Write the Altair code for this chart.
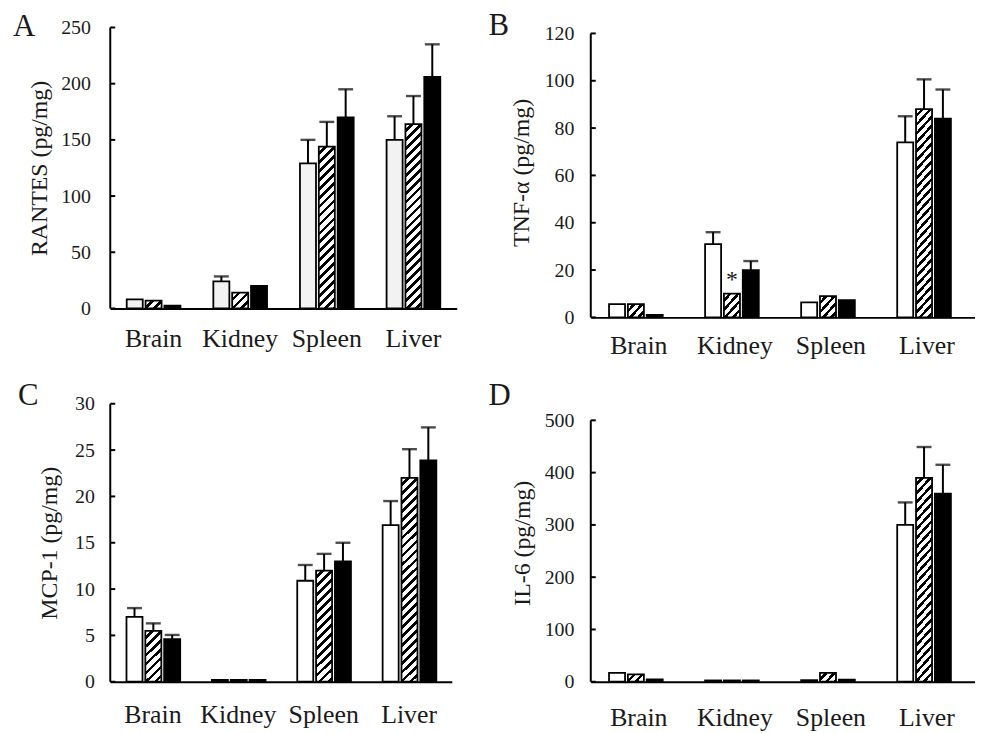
import altair as alt
import pandas as pd

ORGANS = ["Brain", "Kidney", "Spleen", "Liver"]
GROUPS = ["open", "hatched", "filled"]

# ---- Panel A: RANTES (pg/mg)
rantes_open = [8, 24, 129, 150]
rantes_hatched = [7, 14, 144, 164]
rantes_filled = [2.5, 20, 170, 206]
rantes_open_err = [None, 4.5, 21, 21]
rantes_hatched_err = [None, None, 22, 25]
rantes_filled_err = [None, None, 25, 29]
rantes_ticks = [0, 50, 100, 150, 200, 250]

# ---- Panel B: TNF-alpha (pg/mg)
tnf_open = [5.6, 31, 6.3, 74]
tnf_hatched = [5.6, 10, 9, 88]
tnf_filled = [1.0, 20, 7.3, 84]
tnf_open_err = [None, 5, None, 11]
tnf_hatched_err = [None, None, None, 12.6]
tnf_filled_err = [None, 3.8, None, 12.3]
tnf_ticks = [0, 20, 40, 60, 80, 100, 120]

# ---- Panel C: MCP-1 (pg/mg)
mcp_open = [7.0, 0.2, 10.9, 16.9]
mcp_hatched = [5.5, 0.2, 12.0, 22.0]
mcp_filled = [4.6, 0.2, 13.0, 23.9]
mcp_open_err = [0.95, None, 1.7, 2.6]
mcp_hatched_err = [0.8, None, 1.8, 3.1]
mcp_filled_err = [0.45, None, 2.0, 3.55]
mcp_ticks = [0, 5, 10, 15, 20, 25, 30]

# ---- Panel D: IL-6 (pg/mg)
il6_open = [17, 2.5, 3, 300]
il6_hatched = [14, 2.5, 17, 390]
il6_filled = [4.5, 2.5, 4, 360]
il6_open_err = [None, None, None, 43]
il6_hatched_err = [None, None, None, 59]
il6_filled_err = [None, None, None, 55]
il6_ticks = [0, 100, 200, 300, 400, 500]

SERIF = "Liberation Serif"
TXT = "#1a1a1a"
P_OUT = 0.38   # organ band padding
P_IN = 0.15    # padding between the three bars


def hatch(W, H, period=9.0, frac=0.42):
    """Diagonal '/' stripes as a hard-stop linear gradient (objectBoundingBox)."""
    W = max(W, 0.5)
    H = max(H, 0.5)
    S = W + H
    a = W * S / (W * W + H * H)
    b = H * S / (W * W + H * H)
    per = period / S
    stops = []
    k = 0.0
    while k < 1.0 - 1e-9:
        m = min(1.0, k + (1 - frac) * per)
        e2 = min(1.0, k + per)
        stops += [
            {"offset": round(k, 5), "color": "white"},
            {"offset": round(m, 5), "color": "white"},
            {"offset": round(m, 5), "color": "black"},
            {"offset": round(e2, 5), "color": "black"},
        ]
        k += per
    return {"gradient": "linear", "x1": 0, "y1": 0, "x2": a, "y2": b, "stops": stops}


def make_panel(letter, title, vals, errs, ticks, dom_max, width, height,
               open_fill, lab_pad_y, title_pad, lab_pad_x, letter_x, letter_y,
               star=None):
    rows = []
    for i, o in enumerate(ORGANS):
        for g, vs, es in zip(GROUPS, vals, errs):
            v = vs[i]
            e = es[i]
            rows.append({"organ": o, "group": g, "value": v,
                         "top": (v + e) if e is not None else None})
    df = pd.DataFrame(rows)

    xs = alt.Scale(domain=ORGANS, paddingInner=P_OUT, paddingOuter=P_OUT / 2)
    xos = alt.Scale(domain=GROUPS, paddingInner=P_IN, paddingOuter=0)
    ys = alt.Scale(domain=[0, dom_max], nice=False, zero=True)

    xaxis = alt.Axis(title=None, labelAngle=0, ticks=False, tickSize=0,
                     domainColor="black", domainWidth=2, grid=False,
                     labelFont=SERIF, labelFontSize=26, labelColor=TXT,
                     labelPadding=lab_pad_x)
    yaxis = alt.Axis(title=title, values=ticks, domain=False, ticks=False,
                     tickSize=0, grid=False, labelFont=SERIF, labelFontSize=20,
                     labelColor=TXT, labelPadding=lab_pad_y, titleFont=SERIF,
                     titleFontSize=24, titleFontWeight="normal", titleColor=TXT,
                     titlePadding=title_pad)

    X = alt.X("organ:N", scale=xs, axis=xaxis)
    XO = alt.XOffset("group:N", scale=xos)

    def Y(field):
        return alt.Y(field, scale=ys, axis=yaxis)

    # bar pixel sizes (for the stripe pattern only)
    step = width / 4.0
    bw = step * (1 - P_OUT)
    W = bw / (3 - P_IN) * (1 - P_IN)
    conds = [{"test": "datum.group === 'filled'", "value": "black"}]
    for i, o in enumerate(ORGANS):
        H = vals[1][i] * height / dom_max
        conds.append({"test": f"datum.group === 'hatched' && datum.organ === '{o}'",
                      "value": hatch(W, H)})

    bars = alt.Chart(df).mark_bar(stroke="black", strokeWidth=1.8).encode(
        x=X, xOffset=XO, y=Y("value:Q"),
        fill=alt.FillValue(value=open_fill, condition=conds),
    )

    edf = df[df["top"].notna()]
    rule = alt.Chart(edf).mark_rule(color="black", strokeWidth=2).encode(
        x=X, xOffset=XO, y=Y("value:Q"), y2="top:Q")
    cap = alt.Chart(edf).mark_tick(color="black", thickness=2.4, size=15,
                                   orient="horizontal").encode(
        x=X, xOffset=XO, y=Y("top:Q"))

    axis_df = pd.DataFrame({"lo": [0], "hi": [ticks[-1]]})
    yline = alt.Chart(axis_df).mark_rule(color="black", strokeWidth=2).encode(
        x=alt.value(0), y=Y("lo:Q"), y2="hi:Q")
    tick_df = pd.DataFrame({"t": ticks})
    inticks = alt.Chart(tick_df).mark_rule(color="black", strokeWidth=2).encode(
        x=alt.value(0), x2=alt.value(5), y=Y("t:Q"))

    lab = alt.Chart(pd.DataFrame({"t": [letter]})).mark_text(
        align="left", baseline="alphabetic", font=SERIF, fontSize=31, color=TXT
    ).encode(text="t:N", x=alt.value(letter_x), y=alt.value(letter_y))

    layers = [bars, rule, cap, yline, inticks, lab]
    if star is not None:
        sdf = df[(df["organ"] == star[0]) & (df["group"] == star[1])]
        st = alt.Chart(sdf).mark_text(text="*", font=SERIF, fontSize=24,
                                      baseline="alphabetic", dy=-7,
                                      color=TXT).encode(
            x=X, xOffset=XO, y=Y("value:Q"))
        layers.append(st)
    return alt.layer(*layers).properties(width=width, height=height)


pA = make_panel("A", "RANTES (pg/mg)",
                [rantes_open, rantes_hatched, rantes_filled],
                [rantes_open_err, rantes_hatched_err, rantes_filled_err],
                rantes_ticks, 250, 349, 283, "#f2f2f2", 20, 9, 17, -98, 9)
pB = make_panel("B", "TNF-α (pg/mg)",
                [tnf_open, tnf_hatched, tnf_filled],
                [tnf_open_err, tnf_hatched_err, tnf_filled_err],
                tnf_ticks, 122.52, 387, 292, "white", 17, 11, 15, -103, 8,
                star=("Kidney", "hatched"))
pC = make_panel("C", "MCP-1 (pg/mg)",
                [mcp_open, mcp_hatched, mcp_filled],
                [mcp_open_err, mcp_hatched_err, mcp_filled_err],
                mcp_ticks, 30, 344, 280, "white", 16, 13, 20, -93, 1)
pD = make_panel("D", "IL-6 (pg/mg)",
                [il6_open, il6_hatched, il6_filled],
                [il6_open_err, il6_hatched_err, il6_filled_err],
                il6_ticks, 531.7, 387, 280, "white", 17, 10, 23, -103, 1)

chart = alt.concat(pA, pB, pC, pD, columns=2,
                   spacing={"row": 87, "column": 135},
                   bounds="flush").configure_view(stroke=None).properties(
    padding={"left": 5, "top": 0, "right": 0, "bottom": 0})

chart.save("out.html", embed_options={"renderer": "svg", "actions": False})
